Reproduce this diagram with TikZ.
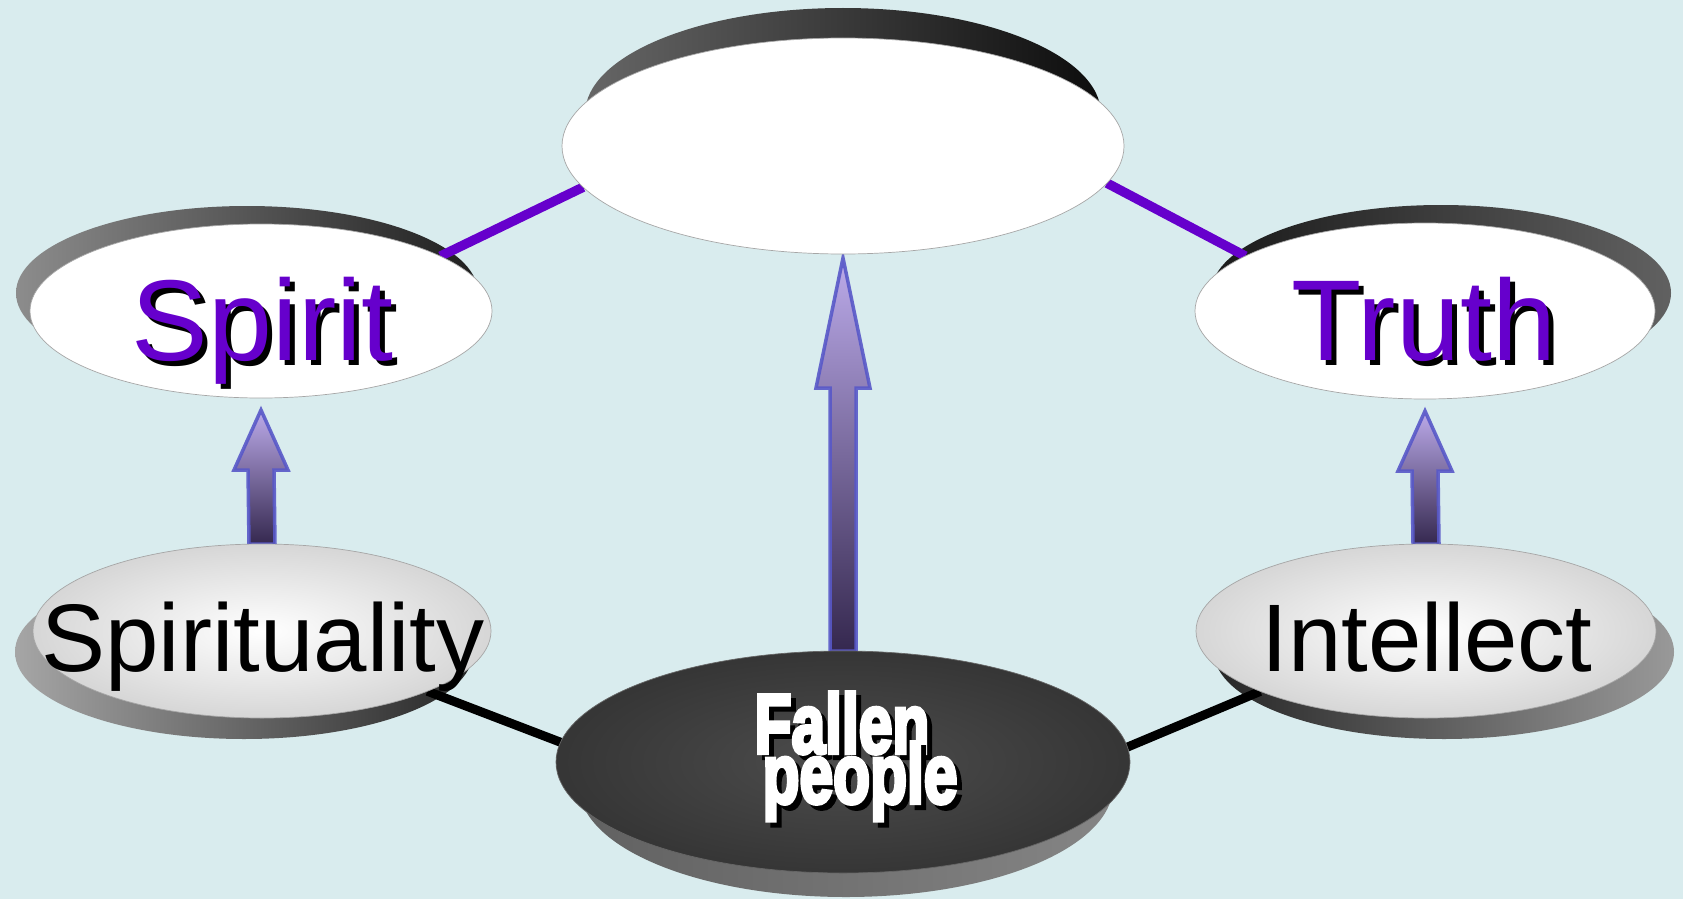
\documentclass[tikz,border=0pt]{standalone}
\usepackage{fontspec}
\setmainfont{Liberation Sans}
\newfontfamily\FallenFam{Liberation Sans Bold}[FakeBold=5]
\usetikzlibrary{shapes.geometric,calc}
\pgfdeclarelayer{bg}
\pgfdeclarelayer{rim}
\pgfdeclarelayer{lines}
\pgfsetlayers{bg,rim,lines,main}
\definecolor{bgc}{HTML}{D9ECEE}
\definecolor{purp}{HTML}{6600CC}
\definecolor{arrTop}{HTML}{BCABEA}
\definecolor{arrBot}{HTML}{35284F}
\definecolor{arrEdge}{HTML}{5858C8}
\newcommand\SpFont{\fontsize{115}{115}\selectfont}
\newcommand\MidFont{\fontsize{96}{96}\selectfont}
\newcommand\FpFont{\FallenFam\fontsize{84}{84}\selectfont}
\newcommand\fatarrow[3]{%
  \shade[arrowsty] ($(#1)+(-13,0)$) -- ($(#2)+(-13,#3)$) -- ($(#2)+(-27,#3)$) -- (#2)
    -- ($(#2)+(27,#3)$) -- ($(#2)+(13,#3)$) -- ($(#1)+(13,0)$) -- cycle;}
\begin{document}
\begin{tikzpicture}[x=1pt,y=-1pt,
  face/.style={ellipse, inner sep=0pt, outer sep=0pt, draw=black!35, line width=0.7pt},
  whiteface/.style={face, fill=white},
  greyface/.style={face, shade, inner color=white, outer color=black!16},
  darkface/.style={face, draw=black!60, shade, inner color=black!70, outer color=black!79},
  pline/.style={draw=purp, line width=9.5pt},
  bline/.style={draw=black, line width=9pt},
  arrowsty/.style={top color=arrTop, bottom color=arrBot, draw=arrEdge, draw opacity=0.9, line width=3.5pt, line join=miter},
  lbl/.style={anchor=base, inner sep=0pt}]
\useasboundingbox (0,0) rectangle (1683,899);
\begin{pgfonlayer}{bg}
  \fill[bgc] (0,0) rectangle (1683,899);
\end{pgfonlayer}

% faces
\node[whiteface, minimum width=562pt, minimum height=216pt] (top) at (843,146) {};
\node[whiteface, minimum width=462pt, minimum height=174pt] (spirit) at (261,311) {};
\node[whiteface, minimum width=460pt, minimum height=176pt] (truth) at (1425,311) {};
\node[greyface, minimum width=458pt, minimum height=174pt] (spl) at (262,631) {};
\node[greyface, minimum width=460pt, minimum height=174pt] (intel) at (1426,631) {};
\node[darkface, minimum width=574pt, minimum height=222pt] (fallen) at (843,762) {};

% rims
\begin{pgfonlayer}{rim}
  \shade[left color=black!60, right color=black!95] (843,114) ellipse [x radius=258pt, y radius=106pt];
  \shade[left color=black!45, right color=black!88] (247,293) ellipse [x radius=231pt, y radius=87pt];
  \shade[left color=black!90, right color=black!62] (1441,293) ellipse [x radius=230pt, y radius=88pt];
  \shade[left color=black!35, right color=black!85] (244,652) ellipse [x radius=229pt, y radius=87pt];
  \shade[left color=black!85, right color=black!40] (1444,652) ellipse [x radius=230pt, y radius=87pt];
  \shade[left color=black!62, right color=black!48] (846,786) ellipse [x radius=267pt, y radius=111pt];
\end{pgfonlayer}

% connectors and arrows
\begin{pgfonlayer}{lines}
  \draw[pline] (spirit.17.8) -- (top.189.2);
  \draw[pline] (top.-8.5) -- (truth.163.2);
  \draw[bline] (spl.-20.1) -- (fallen.176.1);
  \draw[bline] (fallen.3.65) -- (intel.200.6);
  \coordinate (tipC) at ($(top.south)+(0,4)$);
  \coordinate (tipL) at ($(spirit.south)+(0,12)$);
  \coordinate (tipR) at ($(truth.south)+(0,12)$);
  \fatarrow{fallen.north}{tipC}{130}
  \fatarrow{spl.north}{tipL}{60}
  \fatarrow{intel.north}{tipR}{60}
\end{pgfonlayer}

% texts
\node[lbl, font=\SpFont, text=black] (spiritsh) at (268,365) {Spirit};
\node[lbl, font=\SpFont, text=purp] (spirittx) at (263,360) {Spirit};
\node[lbl, font=\SpFont, text=black] (truthsh) at (1429,365) {Truth};
\node[lbl, font=\SpFont, text=purp] (truthtx) at (1424,360) {Truth};
\node[lbl, font=\MidFont, text=black] (spltx) at (263,671) {Spirituality};
\node[lbl, font=\MidFont, text=black] (inteltx) at (1427,671) {Intellect};
\node[lbl, font=\FpFont, text=black] (fall1sh) at (847,758) {\scalebox{0.72}[1]{Fallen}};
\node[lbl, font=\FpFont, text=white] (fall1) at (842,753) {\scalebox{0.72}[1]{Fallen}};
\node[lbl, font=\FpFont, text=black] (fall2sh) at (865,808) {\scalebox{0.72}[1]{people}};
\node[lbl, font=\FpFont, text=white] (fall2) at (860,803) {\scalebox{0.72}[1]{people}};
\end{tikzpicture}
\end{document}
